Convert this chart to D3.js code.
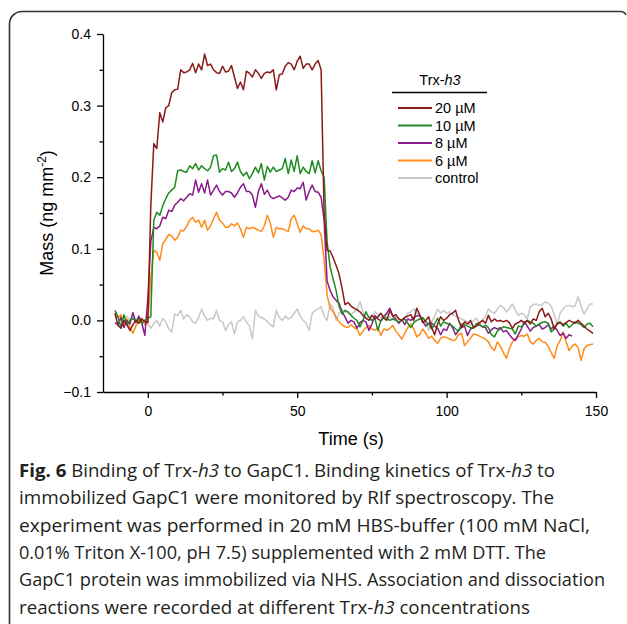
<!DOCTYPE html>
<html><head><meta charset="utf-8">
<script src="https://cdn.jsdelivr.net/npm/d3@7"></script>
<style>body{margin:0;background:#fff}svg{display:block}</style>
</head><body><svg id="c" width="627" height="624"></svg>
<script>
// Sample times (s): one reading per second from -11 s to 149 s
const time = d3.range(-11, 150, 1);

const seriesNames = ["20 µM", "10 µM", "8 µM", "6 µM", "control"];
const seriesColors = ["#8b1a1a", "#1f8c1f", "#8b1a8b", "#ff8c1a", "#c8c8c8"];

const mass20 = [
 0.010,-0.007,-0.011,0.000,-0.006,-0.014,-0.006,0.000,-0.004,0.002,
 -0.002,-0.003,0.160,0.247,0.240,0.290,0.277,0.297,0.300,0.318,
 0.322,0.323,0.350,0.346,0.347,0.350,0.359,0.346,0.358,0.350,
 0.372,0.356,0.358,0.350,0.346,0.345,0.355,0.347,0.348,0.356,
 0.340,0.324,0.333,0.322,0.348,0.345,0.340,0.350,0.345,0.338,
 0.345,0.347,0.346,0.350,0.322,0.343,0.344,0.355,0.360,0.358,
 0.350,0.362,0.369,0.352,0.358,0.358,0.350,0.358,0.363,0.350,
 0.150,0.098,0.097,0.088,0.077,0.065,0.045,0.022,0.025,0.020,
 0.017,0.015,0.012,0.007,0.003,0.000,0.007,0.002,0.005,0.010,
 0.003,0.000,0.014,0.006,0.008,0.002,0.000,0.004,0.006,0.008,
 0.000,0.017,0.008,-0.003,0.000,0.005,-0.010,-0.020,-0.005,0.005,
 0.000,0.003,0.008,0.010,0.014,0.000,-0.010,-0.002,-0.005,0.000,
 -0.010,-0.008,-0.003,0.000,-0.004,0.007,-0.002,0.002,-0.001,0.000,
 -0.002,0.000,-0.003,-0.011,-0.005,-0.003,0.000,-0.004,0.000,-0.005,
 0.002,0.000,0.012,0.017,0.005,0.010,0.002,-0.012,-0.005,-0.003,
 -0.006,-0.003,0.000,-0.002,-0.004,0.000,-0.004,-0.008,-0.012,-0.015,
 -0.018];

const mass10 = [
 0.014,0.005,-0.010,0.008,-0.006,0.000,0.003,-0.002,0.002,-0.004,
 0.000,0.003,0.005,0.140,0.151,0.147,0.160,0.170,0.178,0.182,
 0.186,0.209,0.210,0.208,0.207,0.216,0.212,0.219,0.210,0.216,
 0.212,0.209,0.214,0.230,0.231,0.207,0.212,0.210,0.221,0.208,
 0.212,0.221,0.208,0.202,0.207,0.198,0.205,0.214,0.206,0.219,
 0.196,0.215,0.207,0.214,0.208,0.210,0.212,0.226,0.205,0.224,
 0.208,0.230,0.205,0.214,0.208,0.205,0.223,0.206,0.223,0.209,
 0.200,0.110,0.075,0.058,0.042,0.020,0.009,0.014,0.012,0.007,
 0.003,0.000,-0.009,0.000,0.012,0.004,0.000,0.003,-0.014,0.000,
 0.006,0.003,0.000,0.002,0.000,-0.002,0.000,0.002,-0.004,-0.010,
 -0.003,0.000,0.002,0.004,-0.002,-0.005,-0.012,-0.005,0.003,-0.008,
 -0.002,-0.004,-0.006,-0.008,-0.012,-0.015,-0.005,-0.006,-0.008,-0.010,
 -0.011,-0.004,-0.006,-0.009,-0.007,-0.010,-0.020,-0.023,-0.015,-0.012,
 -0.009,-0.010,-0.011,-0.012,-0.019,-0.008,-0.009,-0.005,0.000,-0.002,
 -0.004,-0.008,-0.005,-0.003,-0.002,-0.004,-0.016,-0.012,-0.004,-0.002,
 -0.008,-0.004,-0.010,-0.006,-0.002,-0.004,-0.006,-0.010,-0.005,-0.004,
 -0.009];

const mass8 = [
 -0.003,-0.006,0.004,-0.010,0.000,-0.005,0.011,-0.003,0.006,-0.004,
 -0.021,0.030,0.110,0.130,0.128,0.132,0.144,0.142,0.154,0.152,
 0.161,0.165,0.170,0.167,0.172,0.177,0.175,0.196,0.179,0.191,
 0.178,0.196,0.175,0.182,0.189,0.180,0.175,0.180,0.180,0.178,
 0.172,0.178,0.186,0.191,0.180,0.180,0.175,0.158,0.180,0.191,
 0.176,0.182,0.173,0.170,0.172,0.174,0.171,0.168,0.172,0.182,
 0.180,0.185,0.184,0.193,0.168,0.180,0.189,0.180,0.179,0.172,
 0.140,0.055,0.042,0.033,0.028,0.024,0.012,0.005,-0.004,0.000,
 -0.002,-0.011,-0.003,0.000,-0.002,-0.014,-0.005,0.007,0.002,-0.001,
 0.005,0.010,0.017,0.006,0.002,-0.004,0.001,-0.006,0.002,0.000,
 0.004,0.006,0.007,-0.001,-0.008,-0.004,-0.004,-0.008,-0.011,-0.020,
 -0.012,-0.014,-0.004,-0.010,-0.020,-0.014,-0.010,-0.008,-0.021,-0.012,
 -0.010,-0.007,-0.006,-0.009,-0.010,-0.018,-0.013,-0.010,-0.012,-0.010,
 -0.016,-0.014,-0.020,-0.025,-0.028,-0.020,-0.012,-0.002,-0.008,-0.015,
 -0.010,-0.008,-0.006,-0.012,-0.010,-0.006,-0.012,-0.008,-0.014,-0.021,
 -0.018,-0.025,-0.020,-0.022];

const mass6 = [
 0.010,0.004,0.008,-0.005,0.002,-0.010,-0.018,-0.008,0.000,0.003,
 -0.006,-0.002,0.060,0.098,0.095,0.084,0.107,0.113,0.120,0.118,
 0.112,0.116,0.126,0.125,0.131,0.140,0.144,0.137,0.140,0.130,
 0.140,0.126,0.132,0.142,0.151,0.140,0.136,0.130,0.130,0.135,
 0.132,0.136,0.128,0.116,0.130,0.128,0.130,0.128,0.126,0.124,
 0.132,0.147,0.136,0.116,0.130,0.128,0.128,0.126,0.124,0.142,
 0.147,0.135,0.123,0.132,0.128,0.128,0.124,0.124,0.126,0.120,
 0.085,0.035,0.018,0.012,0.005,-0.002,-0.006,-0.009,-0.010,-0.006,
 -0.010,-0.012,-0.021,-0.015,-0.010,-0.007,-0.012,-0.014,-0.010,-0.021,
 -0.012,-0.014,-0.011,-0.007,-0.015,-0.020,-0.026,-0.018,-0.010,-0.005,
 -0.012,-0.023,-0.020,-0.012,-0.018,-0.025,-0.022,-0.028,-0.032,-0.025,
 -0.023,-0.024,-0.026,-0.028,-0.027,-0.020,-0.018,-0.035,-0.030,-0.025,
 -0.019,-0.020,-0.022,-0.024,-0.026,-0.030,-0.038,-0.042,-0.030,-0.036,
 -0.045,-0.053,-0.040,-0.030,-0.026,-0.023,-0.021,-0.022,-0.019,-0.030,
 -0.033,-0.028,-0.025,-0.030,-0.031,-0.036,-0.045,-0.053,-0.036,-0.028,
 -0.016,-0.030,-0.042,-0.036,-0.033,-0.038,-0.056,-0.040,-0.035,-0.034,
 -0.033];

const massControl = [
 0.004,0.005,-0.001,0.004,0.006,0.000,0.003,-0.002,0.002,-0.003,
 0.001,-0.005,-0.011,-0.004,0.000,-0.008,0.003,-0.002,-0.012,-0.016,
 0.009,0.007,0.014,0.002,0.008,0.005,-0.002,-0.004,0.004,0.016,
 0.006,0.000,0.003,0.002,0.014,0.000,-0.002,-0.014,-0.006,-0.002,
 -0.019,-0.002,0.000,0.005,-0.002,-0.008,-0.026,0.014,0.006,0.004,
 0.002,-0.002,-0.006,-0.009,0.014,0.004,0.000,0.006,0.002,0.004,
 0.010,0.016,0.006,0.000,-0.004,-0.014,0.010,0.014,0.016,0.019,
 0.006,0.000,0.023,0.018,0.000,0.010,0.014,0.012,0.010,0.008,
 0.012,0.015,0.026,0.012,0.002,0.005,0.006,0.012,0.008,0.004,
 0.006,0.010,0.004,0.002,0.006,0.003,0.000,0.004,0.010,0.012,
 0.016,0.010,0.006,0.003,0.000,-0.014,-0.002,0.006,0.016,0.010,
 0.014,0.010,0.012,0.008,0.006,0.004,0.002,0.000,-0.002,-0.007,
 0.000,0.003,-0.006,0.000,0.005,0.016,0.012,0.010,0.016,0.021,
 0.018,0.012,0.016,0.023,0.014,0.007,0.010,0.008,0.002,0.019,
 0.022,0.023,0.021,0.022,0.026,0.024,0.020,0.008,-0.005,0.010,
 0.016,0.020,0.021,0.019,0.020,0.033,0.020,0.009,0.016,0.023,
 0.023];

const xMajorTicks = [0, 50, 100, 150];
const xMinorTicks = [25, 75, 125];
const yMajorTicks = [-0.1, 0.0, 0.1, 0.2, 0.3, 0.4];
const yMinorTicks = [-0.05, 0.05, 0.15, 0.25, 0.35];

const captionLines = [
  [["b","Fig. 6"],["n"," Binding of Trx-"],["i","h3"],["n"," to GapC1. Binding kinetics of Trx-"],["i","h3"],["n"," to"]],
  [["n","immobilized GapC1 were monitored by RIf spectroscopy. The"]],
  [["n","experiment was performed in 20 mM HBS-buffer (100 mM NaCl,"]],
  [["n","0.01% Triton X-100, pH 7.5) supplemented with 2 mM DTT. The"]],
  [["n","GapC1 protein was immobilized via NHS. Association and dissociation"]],
  [["n","reactions were recorded at different Trx-"],["i","h3"],["n"," concentrations"]]
];
const captionWidths = [536, 535, 571, 527, 586, 511];

const series = [massControl, mass6, mass8, mass10, mass20];
const seriesOrder = [4, 3, 2, 1, 0];

const svg = d3.select("#c");
svg.append("rect").attr("width",627).attr("height",624).attr("fill","#fff");

// frame
svg.append("path")
  .attr("d","M9.5,630 V24 A12.5,12.5 0 0 1 22,11.5 H620 A6,6 0 0 1 626,15")
  .attr("fill","none").attr("stroke","#333").attr("stroke-width",1.6);

const x = d3.scaleLinear().domain([-15,150]).range([103,596]);
const y = d3.scaleLinear().domain([-0.1,0.4]).range([392,34]);

const font = "'Liberation Sans', Arial, sans-serif";

// x axis
const gx = svg.append("g").attr("transform","translate(0,392)");
gx.call(d3.axisBottom(x).tickValues(xMajorTicks).tickSize(6).tickSizeOuter(0).tickPadding(8).tickFormat(d3.format("d")));
const gxm = svg.append("g").attr("transform","translate(0,392)");
gxm.call(d3.axisBottom(x).tickValues(xMinorTicks).tickSize(3.5).tickSizeOuter(0).tickFormat(""));
gxm.select(".domain").remove();

// y axis
const gy = svg.append("g").attr("transform","translate(103,0)");
gy.call(d3.axisLeft(y).tickValues(yMajorTicks).tickSize(6).tickSizeOuter(0).tickPadding(6).tickFormat(d3.format(".1f")));
const gym = svg.append("g").attr("transform","translate(103,0)");
gym.call(d3.axisLeft(y).tickValues(yMinorTicks).tickSize(3.5).tickSizeOuter(0).tickFormat(""));
gym.select(".domain").remove();

svg.selectAll(".domain, .tick line").attr("stroke","#000").attr("stroke-width",1.3);
svg.selectAll(".tick text").attr("font-family",font).attr("font-size",14).attr("fill","#000");

// axis titles
svg.append("text").attr("x",351).attr("y",445).attr("text-anchor","middle")
  .attr("font-family",font).attr("font-size",18).text("Time (s)");
const yt = svg.append("text").attr("transform","translate(53,213) rotate(-90)")
  .attr("text-anchor","middle").attr("font-family",font).attr("font-size",18);
yt.append("tspan").text("Mass (ng mm");
yt.append("tspan").attr("baseline-shift","super").attr("font-size",12).text("-2");
yt.append("tspan").text(")");

// lines
const line = d3.line().x((d,i)=>x(time[i])).y(d=>y(d));
series.forEach((s,k)=>{
  svg.append("path").datum(s).attr("d",line).attr("fill","none")
    .attr("stroke",seriesColors[seriesOrder[k]]).attr("stroke-width",1.5)
    .attr("stroke-linejoin","round");
});

// legend
const lg = svg.append("g");
const lt = lg.append("text").attr("x",440).attr("y",85).attr("text-anchor","middle")
  .attr("font-family",font).attr("font-size",14.5);
lt.append("tspan").text("Trx-");
lt.append("tspan").attr("font-style","italic").text("h3");
lg.append("line").attr("x1",392).attr("x2",487).attr("y1",92.5).attr("y2",92.5)
  .attr("stroke","#000").attr("stroke-width",1.5);
seriesNames.forEach((n,i)=>{
  const yy = 108 + i*17.5;
  lg.append("line").attr("x1",398).attr("x2",432).attr("y1",yy).attr("y2",yy)
    .attr("stroke",seriesColors[i]).attr("stroke-width",2);
  lg.append("text").attr("x",435).attr("y",yy+5).attr("font-family",font)
    .attr("font-size",14.5).text(n);
});

// caption
const cap = svg.append("g");
captionLines.forEach((ln,i)=>{
  const t = cap.append("text").attr("x",19).attr("y",477 + i*27.3)
    .attr("font-family","'Open Sans', sans-serif").attr("font-size",18.3).attr("fill","#231f20")
    .attr("textLength",captionWidths[i]).attr("lengthAdjust","spacingAndGlyphs");
  ln.forEach(([st,tx])=>{
    const sp = t.append("tspan").text(tx);
    if (st==="b") sp.attr("font-weight","bold");
    if (st==="i") sp.attr("font-style","italic");
  });
});
</script>
</body></html>
